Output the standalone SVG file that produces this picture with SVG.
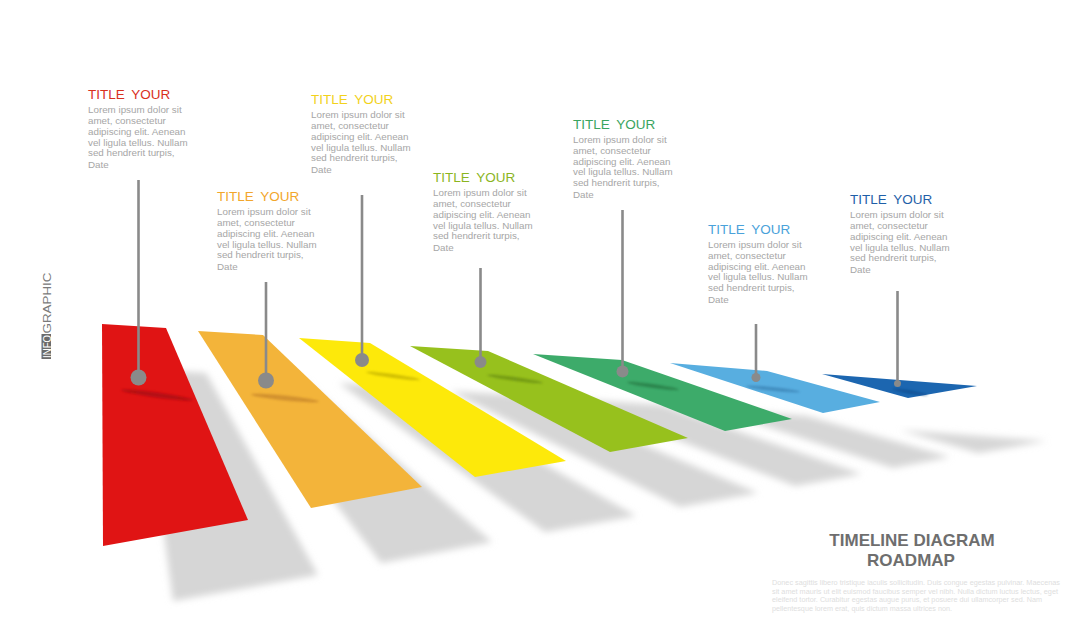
<svg xmlns="http://www.w3.org/2000/svg" width="1080" height="630" viewBox="0 0 1080 630">
<defs>
<filter id="sh" x="-20%" y="-20%" width="140%" height="140%"><feGaussianBlur stdDeviation="3.5"/></filter>
<filter id="st" x="-20%" y="-200%" width="140%" height="500%"><feGaussianBlur stdDeviation="1"/></filter>
<style>
.t{font-family:"Liberation Sans",Arial,sans-serif;font-size:13.5px;word-spacing:3px}
.b{font-family:"Liberation Sans",Arial,sans-serif;font-size:9.8px;fill:#a6a6a6}
.pin{stroke:#8a8a8a;stroke-width:2.6;fill:none}
.dot{fill:#8a8a8a}
.shadow{fill:#d6d6d6;filter:url(#sh)}
.streak{filter:url(#st);opacity:0.75}
.h{font-family:"Liberation Sans",Arial,sans-serif;font-size:17px;font-weight:bold;fill:#6e6e6e;text-anchor:middle}
.p{font-family:"Liberation Sans",Arial,sans-serif;font-size:7px;fill:#dedede}
</style>
</defs>
<rect width="1080" height="630" fill="#ffffff"/>

<g id="shadows">
<polygon class="shadow" points="142,369 206,373 318,575 173,601"/>
<polygon class="shadow" points="238,376 303,380 492,542 381,563"/>
<polygon class="shadow" points="339,383 410,388 636,516 545,532"/>
<polygon class="shadow" points="450,391 528,396 758,493 680,507"/>
<polygon class="shadow" points="573,399 662,405 862,474 795,486"/>
<polygon class="shadow" points="710,408 807,416 950,457 893,468"/>
<polygon class="shadow" points="900,430 1047,441 978,453"/>
</g>

<g id="node-1">
<polygon points="102,324 166,328 248,520 103,546" fill="#e01414"/>
<ellipse class="streak" cx="157" cy="395" rx="36" ry="2.5" transform="rotate(8 157 395)" fill="#a50a12"/>
<text class="t" x="88" y="99" fill="#d9301d">TITLE YOUR</text>
<text class="b" x="88" y="113">Lorem ipsum dolor sit</text>
<text class="b" x="88" y="124">amet, consectetur</text>
<text class="b" x="88" y="135">adipiscing elit. Aenean</text>
<text class="b" x="88" y="145.5">vel ligula tellus. Nullam</text>
<text class="b" x="88" y="156">sed hendrerit turpis,</text>
<text class="b" x="88" y="168">Date</text>
</g>

<g id="node-2">
<polygon points="198,331 263,335 422,487 311,508" fill="#f3b43a"/>
<ellipse class="streak" cx="285" cy="398" rx="34" ry="2.5" transform="rotate(6 285 398)" fill="#c7862a"/>
<text class="t" x="217" y="201" fill="#f2a62c">TITLE YOUR</text>
<text class="b" x="217" y="215">Lorem ipsum dolor sit</text>
<text class="b" x="217" y="226">amet, consectetur</text>
<text class="b" x="217" y="237">adipiscing elit. Aenean</text>
<text class="b" x="217" y="247.5">vel ligula tellus. Nullam</text>
<text class="b" x="217" y="258">sed hendrerit turpis,</text>
<text class="b" x="217" y="270">Date</text>
</g>

<g id="node-3">
<polygon points="299,338 370,343 566,461 475,477" fill="#fde90a"/>
<ellipse class="streak" cx="393" cy="376" rx="27" ry="2" transform="rotate(8 393 376)" fill="#c4b300"/>
<text class="t" x="311" y="104" fill="#f2d21b">TITLE YOUR</text>
<text class="b" x="311" y="118">Lorem ipsum dolor sit</text>
<text class="b" x="311" y="129">amet, consectetur</text>
<text class="b" x="311" y="140">adipiscing elit. Aenean</text>
<text class="b" x="311" y="150.5">vel ligula tellus. Nullam</text>
<text class="b" x="311" y="161">sed hendrerit turpis,</text>
<text class="b" x="311" y="173">Date</text>
</g>

<g id="node-4">
<polygon points="410,346 488,351 688,438 610,452" fill="#97c11d"/>
<ellipse class="streak" cx="515" cy="379" rx="28" ry="2" transform="rotate(8 515 379)" fill="#6a9012"/>
<text class="t" x="433" y="182" fill="#8bb51f">TITLE YOUR</text>
<text class="b" x="433" y="196">Lorem ipsum dolor sit</text>
<text class="b" x="433" y="207">amet, consectetur</text>
<text class="b" x="433" y="218">adipiscing elit. Aenean</text>
<text class="b" x="433" y="228.5">vel ligula tellus. Nullam</text>
<text class="b" x="433" y="239">sed hendrerit turpis,</text>
<text class="b" x="433" y="251">Date</text>
</g>

<g id="node-5">
<polygon points="533,354 622,360 792,419 725,431" fill="#3dab6a"/>
<ellipse class="streak" cx="653" cy="386" rx="26" ry="2" transform="rotate(8 653 386)" fill="#267a45"/>
<text class="t" x="573" y="128.5" fill="#3aa45f">TITLE YOUR</text>
<text class="b" x="573" y="142.5">Lorem ipsum dolor sit</text>
<text class="b" x="573" y="153.5">amet, consectetur</text>
<text class="b" x="573" y="164.5">adipiscing elit. Aenean</text>
<text class="b" x="573" y="175">vel ligula tellus. Nullam</text>
<text class="b" x="573" y="185.5">sed hendrerit turpis,</text>
<text class="b" x="573" y="197.5">Date</text>
</g>

<g id="node-6">
<polygon points="670,363 767,371 880,402 823,413" fill="#58aee0"/>
<ellipse class="streak" cx="773" cy="389" rx="27" ry="1.8" transform="rotate(6 773 389)" fill="#3a82b4"/>
<text class="t" x="708" y="233.5" fill="#4aa2da">TITLE YOUR</text>
<text class="b" x="708" y="247.5">Lorem ipsum dolor sit</text>
<text class="b" x="708" y="258.5">amet, consectetur</text>
<text class="b" x="708" y="269.5">adipiscing elit. Aenean</text>
<text class="b" x="708" y="280">vel ligula tellus. Nullam</text>
<text class="b" x="708" y="290.5">sed hendrerit turpis,</text>
<text class="b" x="708" y="302.5">Date</text>
</g>

<g id="node-7">
<polygon points="822,374 977,386 908,398" fill="#1c66b0"/>
<ellipse class="streak" cx="910" cy="392" rx="18" ry="1.5" transform="rotate(10 910 392)" fill="#0d4a8a"/>
<text class="t" x="850" y="204" fill="#1f5fa8">TITLE YOUR</text>
<text class="b" x="850" y="218">Lorem ipsum dolor sit</text>
<text class="b" x="850" y="229">amet, consectetur</text>
<text class="b" x="850" y="240">adipiscing elit. Aenean</text>
<text class="b" x="850" y="250.5">vel ligula tellus. Nullam</text>
<text class="b" x="850" y="261">sed hendrerit turpis,</text>
<text class="b" x="850" y="273">Date</text>
</g>

<g id="connectors">
<line class="pin" x1="138.5" y1="180" x2="138.5" y2="377" stroke-width="3"/>
<circle class="dot" cx="138.5" cy="377.5" r="8"/>
<line class="pin" x1="266" y1="282" x2="266" y2="380" stroke-width="3"/>
<circle class="dot" cx="266" cy="380.5" r="8"/>
<line class="pin" x1="362" y1="195" x2="362" y2="360"/>
<circle class="dot" cx="362" cy="360" r="7"/>
<line class="pin" x1="480.5" y1="268" x2="480.5" y2="362"/>
<circle class="dot" cx="480.5" cy="362" r="6"/>
<line class="pin" x1="622.5" y1="210" x2="622.5" y2="372"/>
<circle class="dot" cx="622.5" cy="371.5" r="6"/>
<line class="pin" x1="756" y1="324" x2="756" y2="378" stroke-width="2.4"/>
<circle class="dot" cx="756" cy="377.5" r="4.5"/>
<line class="pin" x1="897.5" y1="291" x2="897.5" y2="383" stroke-width="2.2"/>
<circle class="dot" cx="897.5" cy="383.5" r="3.5"/>
</g>

<g id="side-label">
<rect x="41.5" y="334" width="9.5" height="25" fill="#6b6b6b"/>
<g transform="translate(50.5,358) rotate(-90)">
<text x="0" y="0" font-family="Liberation Sans, Arial, sans-serif" font-size="11" fill="#ffffff" textLength="23" lengthAdjust="spacingAndGlyphs">INFO</text>
<text x="24.5" y="0" font-family="Liberation Sans, Arial, sans-serif" font-size="11" fill="#7a7a7a" textLength="61" lengthAdjust="spacingAndGlyphs">GRAPHIC</text>
</g>
</g>

<g id="footer">
<text class="h" x="912" y="546">TIMELINE  DIAGRAM</text>
<text class="h" x="911" y="566">ROADMAP</text>
<text class="p" x="772" y="585" textLength="288" lengthAdjust="spacingAndGlyphs">Donec sagittis libero tristique iaculis sollicitudin. Duis congue egestas pulvinar. Maecenas</text>
<text class="p" x="772" y="593.5" textLength="286" lengthAdjust="spacingAndGlyphs">sit amet mauris ut elit euismod faucibus semper vel nibh. Nulla dictum luctus lectus, eget</text>
<text class="p" x="772" y="602" textLength="270" lengthAdjust="spacingAndGlyphs">eleifend tortor. Curabitur egestas augue purus, et posuere dui ullamcorper sed. Nam</text>
<text class="p" x="772" y="610.5" textLength="180" lengthAdjust="spacingAndGlyphs">pellentesque lorem erat, quis dictum massa ultrices non.</text>
</g>
</svg>
